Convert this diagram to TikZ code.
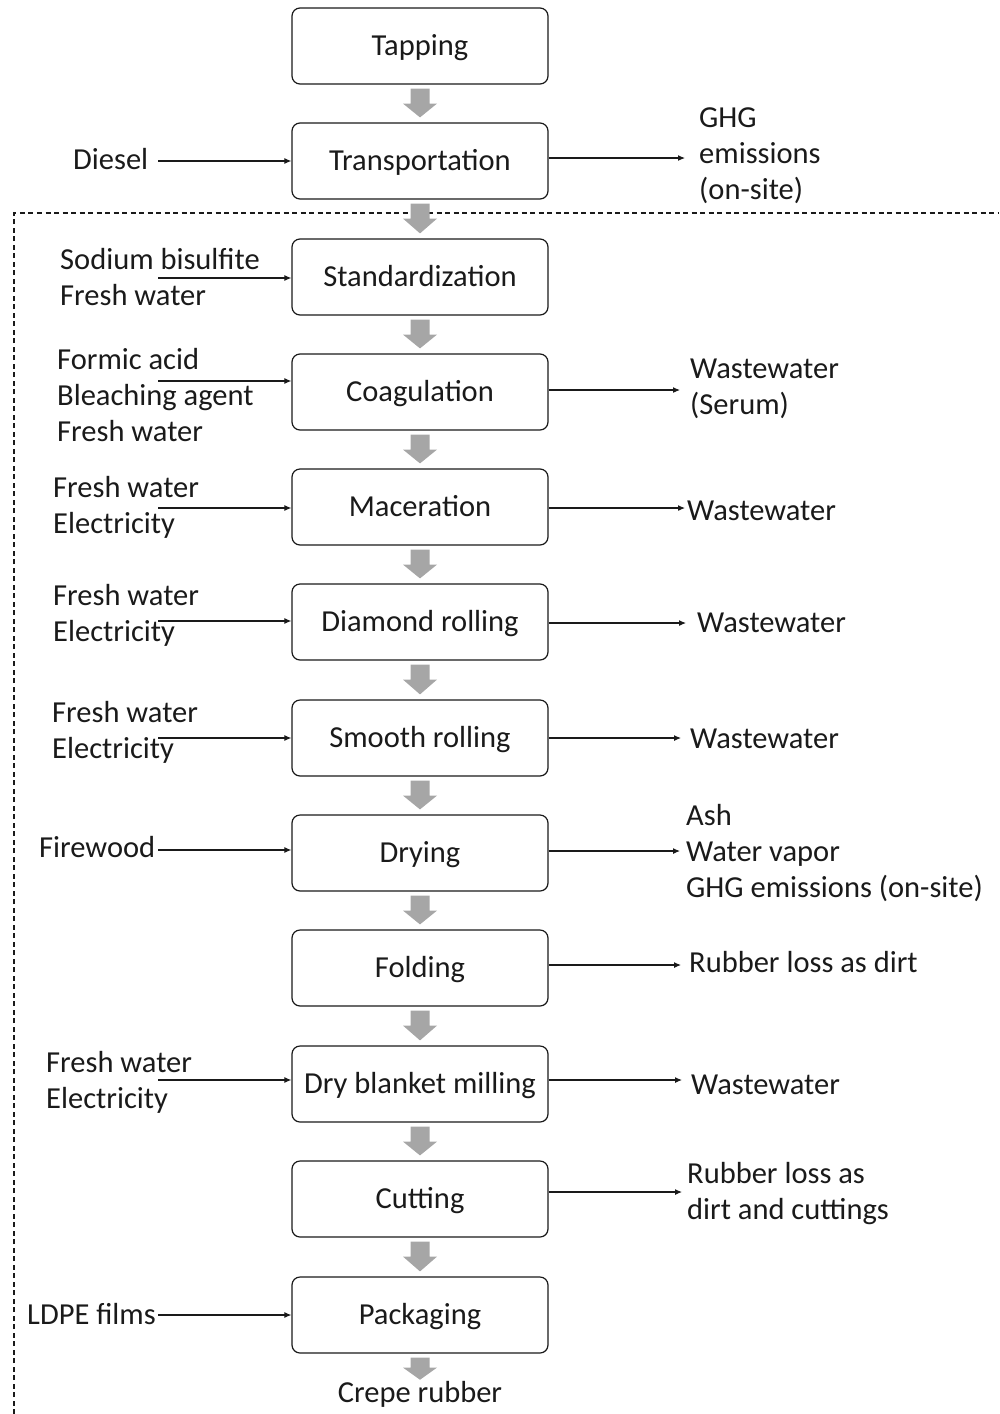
\documentclass[tikz,border=0pt]{standalone}
\usepackage{fontspec}
\setmainfont{Carlito}
\usetikzlibrary{arrows.meta,calc}

\definecolor{ink}{HTML}{1A1A1A}
\definecolor{blockgray}{HTML}{A6A6A6}

\tikzset{
  stepbox/.style={draw=ink, line width=1.2pt, rounded corners=8pt, fill=white,
    minimum width=256pt, minimum height=76pt, inner sep=0pt, text=ink,
    text height=24pt, text depth=6pt},
  flowtext/.style={anchor=west, align=left, inner sep=0pt, text=ink},
  flow/.style={draw=ink, line width=1.1pt, -{Latex[length=7pt,width=6pt]}},
  boundary/.style={draw=ink, line width=1.1pt, dash pattern=on 5pt off 3.5pt},
  blockfill/.style={fill=blockgray, draw=none}
}

% gray block arrow between two stacked process boxes
\newcommand{\blockarrow}[2]{%
  \fill[blockfill] ($(#1.south)+(-9.5,4)$) -- ($(#1.south)+(9.5,4)$)
    -- ($(#1.south)+(9.5,19)$) -- ($(#1.south)+(17,19)$)
    -- ($(#2.north)+(0,-5)$)
    -- ($(#1.south)+(-17,19)$) -- ($(#1.south)+(-9.5,19)$) -- cycle;}

\begin{document}
\begin{tikzpicture}[x=1pt, y=-1pt, font=\fontsize{30.5}{36}\selectfont]
\useasboundingbox (0,0) rectangle (999,1414);

% system boundary
\draw[boundary] (14,1414) -- (14,213) -- (999,213);

% process chain
\node[stepbox] (tap)   at (420,46)   {Tapping};
\node[stepbox] (trans) at (420,161)  {Transportation};
\node[stepbox] (std)   at (420,277)  {Standardization};
\node[stepbox] (coag)  at (420,392)  {Coagulation};
\node[stepbox] (mac)   at (420,507)  {Maceration};
\node[stepbox] (dia)   at (420,622)  {Diamond rolling};
\node[stepbox] (smo)   at (420,738)  {Smooth rolling};
\node[stepbox] (dry)   at (420,853)  {Drying};
\node[stepbox] (fold)  at (420,968)  {Folding};
\node[stepbox] (mill)  at (420,1084) {Dry blanket milling};
\node[stepbox] (cut)   at (420,1199) {Cutting};
\node[stepbox] (pack)  at (420,1315) {Packaging};
\node[inner sep=0pt, text=ink] (crepe) at (420,1394) {Crepe rubber};

\blockarrow{tap}{trans}
\blockarrow{trans}{std}
\blockarrow{std}{coag}
\blockarrow{coag}{mac}
\blockarrow{mac}{dia}
\blockarrow{dia}{smo}
\blockarrow{smo}{dry}
\blockarrow{dry}{fold}
\blockarrow{fold}{mill}
\blockarrow{mill}{cut}
\blockarrow{cut}{pack}
\fill[blockfill] ($(pack.south)+(-9.5,4)$) -- ($(pack.south)+(9.5,4)$)
  -- ($(pack.south)+(9.5,14)$) -- ($(pack.south)+(17,14)$)
  -- ($(crepe.north)+(0,-1)$)
  -- ($(pack.south)+(-17,14)$) -- ($(pack.south)+(-9.5,14)$) -- cycle;

% inputs
\node[flowtext] (inTrans) at (73,159)  {Diesel};
\node[flowtext] (inStd)   at (60,277)  {Sodium bisulfite\\Fresh water};
\node[flowtext] (inCoag)  at (57,395)  {Formic acid\\Bleaching agent\\Fresh water};
\node[flowtext] (inMac)   at (53,507)  {Fresh water\\Electricity};
\node[flowtext] (inDia)   at (53,615)  {Fresh water\\Electricity};
\node[flowtext] (inSmo)   at (52,732)  {Fresh water\\Electricity};
\node[flowtext] (inDry)   at (39,847)  {Firewood};
\node[flowtext] (inMill)  at (46,1082) {Fresh water\\Electricity};
\node[flowtext] (inPack)  at (27,1314) {LDPE films};

\coordinate (iTrans) at (158,161);
\coordinate (iStd)   at (158,278);
\coordinate (iCoag)  at (158,381);
\coordinate (iMac)   at (158,508);
\coordinate (iDia)   at (158,621);
\coordinate (iSmo)   at (158,738);
\coordinate (iDry)   at (158,850);
\coordinate (iMill)  at (158,1080);
\coordinate (iPack)  at (158,1315);

\draw[flow] (iTrans) -- (iTrans -| trans.west);
\draw[flow] (iStd)   -- (iStd -| std.west);
\draw[flow] (iCoag)  -- (iCoag -| coag.west);
\draw[flow] (iMac)   -- (iMac -| mac.west);
\draw[flow] (iDia)   -- (iDia -| dia.west);
\draw[flow] (iSmo)   -- (iSmo -| smo.west);
\draw[flow] (iDry)   -- (iDry -| dry.west);
\draw[flow] (iMill)  -- (iMill -| mill.west);
\draw[flow] (iPack)  -- (iPack -| pack.west);

% outputs
\node[flowtext] (outTrans) at (699,156)  {GHG\\emissions\\(on-site)};
\node[flowtext] (outCoag)  at (690,389)  {Wastewater\\(Serum)};
\node[flowtext] (outMac)   at (687,511)  {Wastewater};
\node[flowtext] (outDia)   at (697,623)  {Wastewater};
\node[flowtext] (outSmo)   at (690,739)  {Wastewater};
\node[flowtext] (outDry)   at (686,853)  {Ash\\Water vapor\\GHG emissions (on-site)};
\node[flowtext] (outFold)  at (689,962)  {Rubber loss as dirt};
\node[flowtext] (outMill)  at (691,1085) {Wastewater};
\node[flowtext] (outCut)   at (687,1194) {Rubber loss as\\dirt and cuttings};

\coordinate (oTrans) at (685,158);
\coordinate (oCoag)  at (680,390);
\coordinate (oMac)   at (685,508);
\coordinate (oDia)   at (686,623);
\coordinate (oSmo)   at (681,738);
\coordinate (oDry)   at (680,851);
\coordinate (oFold)  at (681,965);
\coordinate (oMill)  at (682,1080);
\coordinate (oCut)   at (682,1192);

\draw[flow] (oTrans -| trans.east) -- (oTrans);
\draw[flow] (oCoag -| coag.east)   -- (oCoag);
\draw[flow] (oMac -| mac.east)     -- (oMac);
\draw[flow] (oDia -| dia.east)     -- (oDia);
\draw[flow] (oSmo -| smo.east)     -- (oSmo);
\draw[flow] (oDry -| dry.east)     -- (oDry);
\draw[flow] (oFold -| fold.east)   -- (oFold);
\draw[flow] (oMill -| mill.east)   -- (oMill);
\draw[flow] (oCut -| cut.east)     -- (oCut);
\end{tikzpicture}
\end{document}
